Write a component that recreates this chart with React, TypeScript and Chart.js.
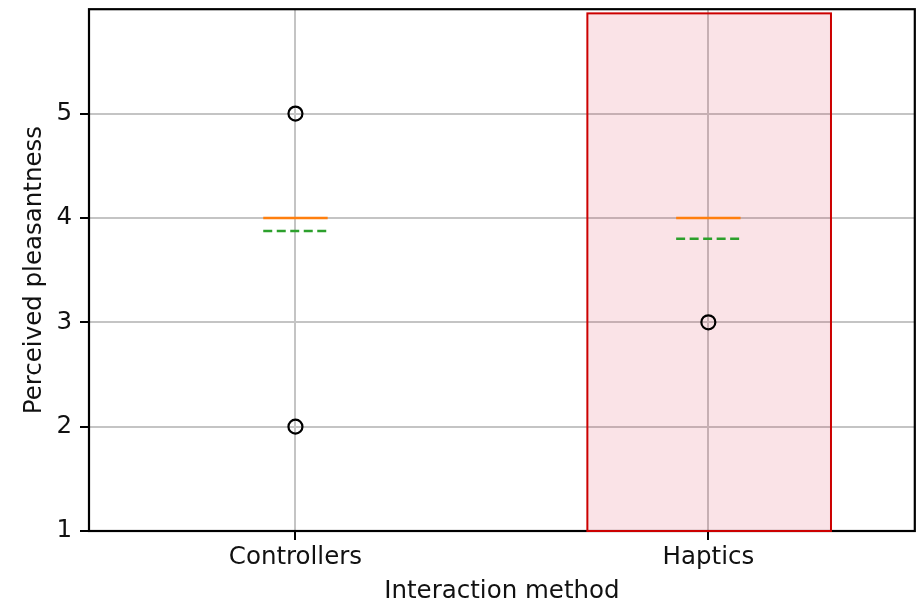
import React, { useEffect, useRef } from 'react';
import { Chart, registerables } from 'chart.js';

Chart.register(...registerables);

// ---- data ----
const categories = ['Controllers', 'Haptics'];
const medians = [4, 4];
const means = [3.875, 3.8];
const outliers = [[2, 5], [3]];
const yTicks = [1, 2, 3, 4, 5];
const highlightCategory = 'Haptics';
const highlightYRange = [1, 5.96];
const xLabel = 'Interaction method';
const yLabel = 'Perceived pleasantness';

// ---- geometry / style constants ----
const BOX_HALF = 0.078;
const HIGHLIGHT_LEFT = 0.293;
const HIGHLIGHT_RIGHT = 0.297;
const FONT = "'DejaVu Sans', sans-serif";
const FONT_SIZE = 24.5;

const framePlugin = {
  id: 'frameAndHighlight',
  beforeDatasetsDraw(chart: any) {
    const { ctx, chartArea, scales } = chart;
    const x = scales.x;
    const y = scales.y;
    ctx.save();
    ctx.strokeStyle = '#000';
    ctx.lineWidth = 2.2;
    ctx.strokeRect(chartArea.left, chartArea.top, chartArea.right - chartArea.left, chartArea.bottom - chartArea.top);
    const pos = categories.indexOf(highlightCategory) + 1;
    const x0 = x.getPixelForValue(pos - HIGHLIGHT_LEFT);
    const x1 = x.getPixelForValue(pos + HIGHLIGHT_RIGHT);
    const y0 = y.getPixelForValue(highlightYRange[1]);
    const y1 = y.getPixelForValue(highlightYRange[0]);
    ctx.fillStyle = 'rgba(220,40,70,0.13)';
    ctx.fillRect(x0, y0, x1 - x0, y1 - y0);
    ctx.strokeStyle = '#cc0000';
    ctx.lineWidth = 2;
    ctx.strokeRect(x0, y0, x1 - x0, y1 - y0);
    ctx.restore();
  },
};

export default function App() {
  const ref = useRef<HTMLCanvasElement | null>(null);

  useEffect(() => {
    document.body.style.margin = '0';
    const datasets: any[] = [];
    categories.forEach((_, i) => {
      const pos = i + 1;
      datasets.push({
        label: 'median-' + i,
        data: [
          { x: pos - BOX_HALF, y: medians[i] },
          { x: pos + BOX_HALF, y: medians[i] },
        ],
        showLine: true,
        borderColor: '#ff7f0e',
        borderWidth: 2.5,
        pointRadius: 0,
      });
      datasets.push({
        label: 'mean-' + i,
        data: [
          { x: pos - BOX_HALF, y: means[i] },
          { x: pos + BOX_HALF, y: means[i] },
        ],
        showLine: true,
        borderColor: '#2ca02c',
        borderWidth: 2.5,
        borderDash: [9, 4.5],
        pointRadius: 0,
      });
      datasets.push({
        label: 'outliers-' + i,
        data: outliers[i].map((v) => ({ x: pos, y: v })),
        showLine: false,
        pointRadius: 7,
        pointBorderWidth: 2.2,
        pointBorderColor: '#000',
        pointBackgroundColor: 'rgba(0,0,0,0)',
      });
    });

    const chart = new Chart(ref.current as HTMLCanvasElement, {
      type: 'scatter',
      data: { datasets },
      plugins: [framePlugin],
      options: {
        animation: false,
        responsive: true,
        maintainAspectRatio: false,
        layout: { padding: { left: 0, top: 8, right: 8, bottom: 0 } },
        plugins: { legend: { display: false }, tooltip: { enabled: false } },
        scales: {
          x: {
            type: 'linear',
            min: 0.5,
            max: 2.5,
            border: { display: false },
            afterBuildTicks: (s: any) => {
              s.ticks = categories.map((_, i) => ({ value: i + 1 }));
            },
            afterFit: (s: any) => {
              s.height = 74;
              s.paddingLeft = 0;
              s.paddingRight = 0;
            },
            grid: {
              color: '#c4c4c4',
              lineWidth: 2,
              tickColor: '#000',
              tickLength: 9,
              tickWidth: 2,
            },
            ticks: {
              color: '#111',
              font: { family: FONT, size: FONT_SIZE },
              padding: 3,
              maxRotation: 0,
              callback: (v: any) => categories[Math.round(Number(v)) - 1] ?? '',
            },
            title: {
              display: true,
              text: xLabel,
              color: '#111',
              font: { family: FONT, size: FONT_SIZE, lineHeight: 1.0 },
              padding: { top: 0, bottom: 1 },
            },
          },
          y: {
            type: 'linear',
            min: 1,
            max: 6,
            border: { display: false },
            afterBuildTicks: (s: any) => {
              s.ticks = yTicks.map((v) => ({ value: v }));
            },
            afterFit: (s: any) => {
              s.width = 89;
              s.paddingTop = 0;
              s.paddingBottom = 0;
            },
            grid: {
              color: '#c4c4c4',
              lineWidth: 2,
              tickColor: '#000',
              tickLength: 9,
              tickWidth: 2,
            },
            ticks: {
              color: '#111',
              font: { family: FONT, size: FONT_SIZE },
              padding: 8,
            },
            title: {
              display: true,
              text: yLabel,
              color: '#111',
              font: { family: FONT, size: FONT_SIZE },
              padding: { top: 20, bottom: 0 },
            },
          },
        },
      } as any,
    });
    return () => chart.destroy();
  }, []);

  return (
    <div style={{ position: 'absolute', left: 0, top: 0, width: 924, height: 605 }}>
      <canvas ref={ref} />
    </div>
  );
}
